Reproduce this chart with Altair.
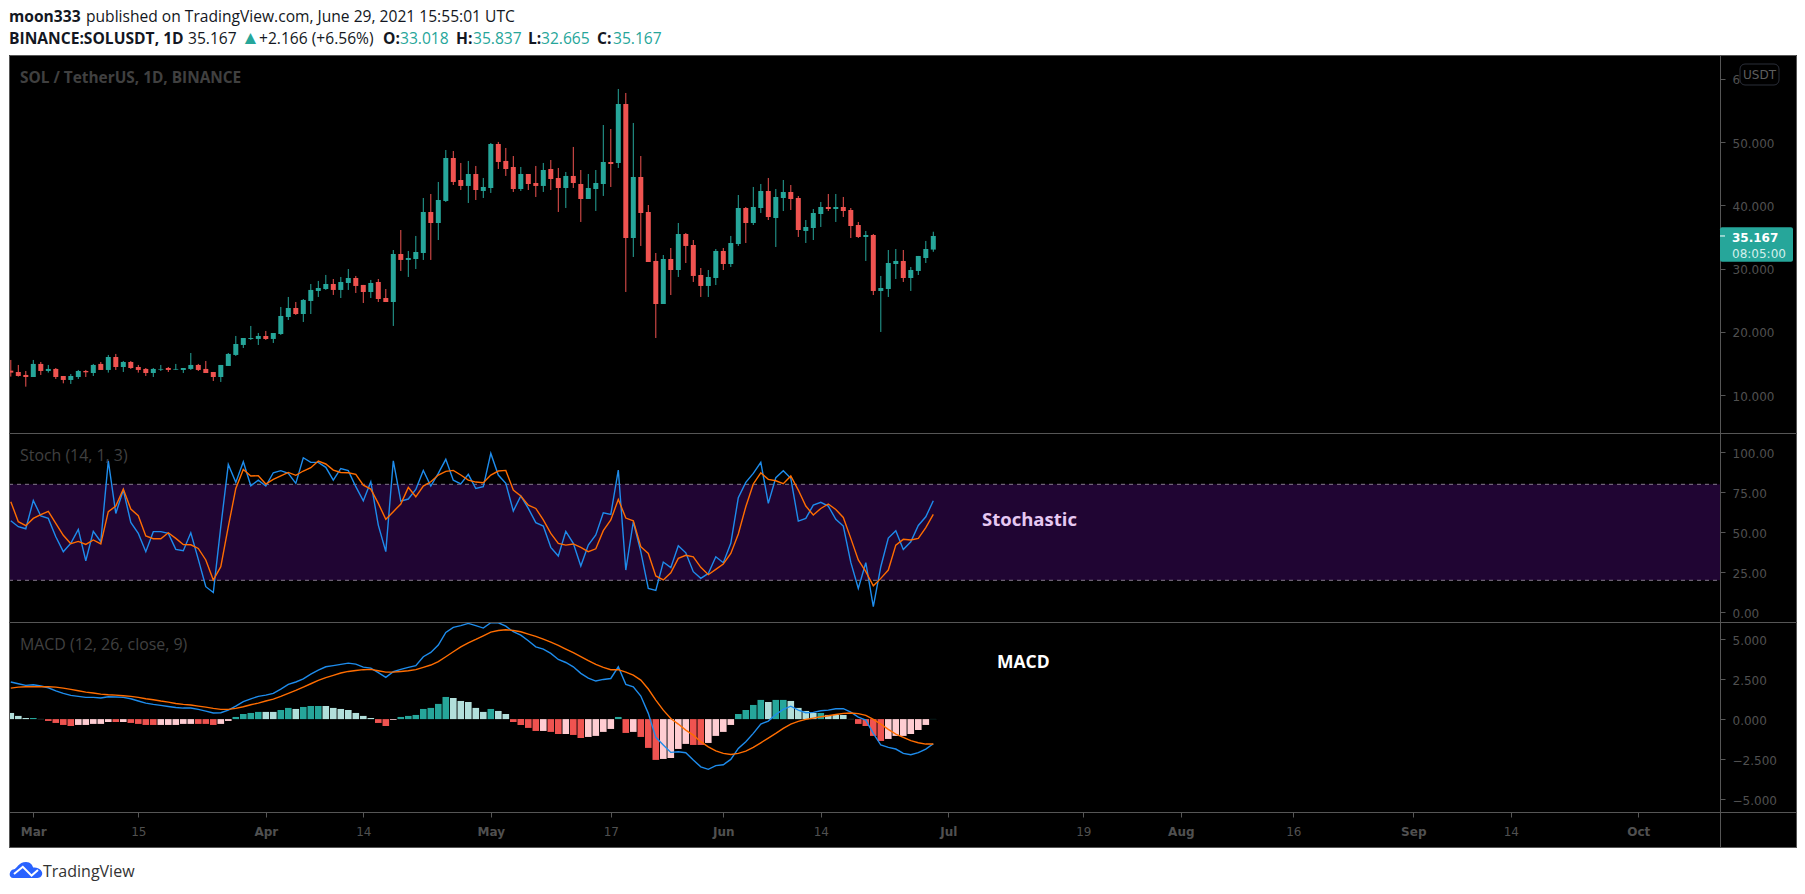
import altair as alt
import pandas as pd

days = list(range(-3, 121))

opens = [13.89,13.68,13.21,12.89,14.95,13.84,14.16,13.05,12.42,12.89,13.84,13.52,14.95,14.00,16.05,14.47,15.26,14.47,14.16,13.52,14.05,14.31,14.05,14.00,14.16,14.79,14.16,13.68,12.89,14.63,16.37,17.95,18.90,18.90,19.37,18.90,19.68,22.37,23.79,22.84,24.90,26.48,26.79,27.58,26.64,27.74,28.53,27.43,26.32,27.90,25.37,24.74,32.32,31.38,31.53,32.48,38.96,37.22,40.70,47.49,44.01,43.07,44.96,42.28,42.75,49.70,47.02,46.07,42.59,44.96,43.54,43.07,45.75,44.33,42.75,44.65,43.38,41.01,42.59,43.38,46.86,46.70,
         56.02,34.85,44.49,38.96,31.22,24.42,31.53,29.79,35.48,33.74,29.00,27.27,28.53,32.80,30.74,33.90,39.59,37.22,39.59,42.27,38.01,41.17,42.12,41.17,35.96,36.43,38.64,39.75,39.43,39.75,39.27,36.90,35.01,35.32,26.48,26.79,30.74,31.22,28.53,29.64,31.69,33.018]
highs = [15.58,14.79,13.84,15.58,15.26,14.79,14.31,13.05,13.36,14.00,14.00,14.95,15.26,16.37,16.53,15.42,15.42,14.79,14.31,14.31,14.79,14.47,14.95,14.31,16.68,14.95,15.42,13.68,14.79,16.68,19.37,19.05,20.95,19.84,20.16,19.84,23.95,25.53,24.74,25.21,27.58,28.06,29.01,28.37,28.69,29.95,28.85,27.43,28.22,28.37,26.79,32.95,36.11,32.80,35.17,41.17,41.80,43.70,48.75,48.59,46.70,47.02,46.23,44.33,49.86,50.02,49.07,47.80,46.07,44.96,46.23,46.70,47.17,45.91,45.28,49.23,45.59,44.96,45.59,52.70,52.07,58.39,
         57.76,53.02,47.80,40.06,32.48,32.16,33.27,37.22,35.64,34.53,30.11,29.79,33.11,33.27,35.17,41.64,39.75,42.91,43.38,44.33,42.59,44.01,43.22,41.48,37.69,39.43,40.54,41.80,41.80,41.33,39.59,37.38,35.96,35.48,28.85,32.95,33.11,32.95,30.27,32.01,34.38,35.837]
lows = [12.95,12.95,11.36,12.89,13.21,13.58,12.58,11.89,11.79,12.58,12.89,13.05,14.00,13.58,14.00,13.68,14.16,13.58,13.05,12.89,13.84,13.68,14.00,13.52,14.00,13.84,13.52,12.26,12.10,14.63,16.21,17.47,18.74,17.95,18.74,18.26,19.53,21.90,22.69,21.58,22.84,25.53,26.64,25.85,25.37,26.64,26.16,24.58,25.37,24.74,24.74,20.95,29.64,28.69,29.95,31.38,31.38,34.53,40.54,43.22,42.43,40.38,40.85,41.17,41.96,45.75,44.65,42.12,42.28,42.43,41.33,42.12,42.43,38.96,39.59,42.75,37.38,41.01,39.12,41.49,42.91,45.91,
        26.32,31.85,33.59,31.06,19.05,24.42,25.84,28.69,30.90,27.90,25.53,25.53,27.42,29.79,30.27,33.59,34.06,36.90,38.80,37.69,33.43,39.11,39.27,35.01,34.06,34.53,36.59,39.11,37.38,38.17,34.85,34.85,31.22,25.84,20.00,25.53,28.37,27.90,26.48,29.00,30.90,32.665]
closes = [13.58,13.05,12.89,14.95,13.84,14.16,12.89,12.42,13.05,13.84,13.63,14.79,14.00,16.05,14.47,15.26,14.31,14.00,13.52,14.16,14.16,14.00,14.16,14.31,14.79,14.00,13.52,12.89,14.79,16.53,18.10,19.05,19.05,19.37,18.90,19.84,22.53,23.79,22.84,25.06,26.64,26.95,27.58,26.64,27.90,28.53,27.27,26.32,27.74,25.21,24.74,32.32,31.38,31.69,32.64,38.96,37.22,40.85,47.49,43.70,43.07,44.96,42.43,42.91,49.70,46.86,45.75,42.59,44.96,43.38,43.07,45.59,44.17,42.75,44.65,43.54,41.01,42.75,43.54,46.86,46.54,56.02,
          34.85,44.49,38.80,31.06,24.42,31.53,29.79,35.48,33.59,28.85,27.27,28.69,32.80,30.74,34.06,39.59,37.22,39.75,42.27,38.17,41.33,42.12,41.01,36.11,36.59,38.80,39.75,39.43,39.75,39.11,36.74,35.01,35.32,26.48,26.95,30.90,31.22,28.53,29.79,32.01,33.11,35.167]

stoch_k = [57.2,53.5,52.2,69.9,60.2,58.7,47.2,37.9,43.1,51.8,32.2,50.6,44.1,94.7,61.8,76.4,56.2,49.3,37.9,50.4,50.4,49.3,39.3,38.5,49.7,33.1,16.0,12.4,53.5,92.4,81.2,94.1,79.1,82.6,78.9,87.2,88.5,86.8,80.6,96.6,93.7,93.7,90.6,82.6,89.9,88.5,78.5,69.7,81.6,54.5,37.9,94.7,69.5,70.8,76.8,88.7,78.9,86.8,95.6,82.6,80.2,86.2,77.4,78.5,99.3,85.8,80.6,63.3,72.7,64.9,56.0,53.9,40.6,35.2,50.6,43.1,28.9,42.0,48.3,62.2,61.2,88.9,26.4,56.6,37.9,14.9,13.7,31.4,27.9,41.6,37.2,25.4,21.2,24.3,34.7,31.0,43.1,71.6,81.2,86.8,93.7,68.1,84.1,88.5,83.7,57.0,58.7,67.0,68.7,66.4,58.1,53.9,31.2,14.9,31.0,3.5,28.5,46.4,51.0,39.3,44.1,54.3,59.7,69.7]
stoch_d = [69.1,56.6,54.1,58.7,61.0,63.1,55.6,48.1,42.9,44.3,42.4,45.2,42.7,62.9,66.4,77.0,64.5,60.4,47.7,46.0,46.0,49.7,46.2,42.4,42.2,39.9,32.7,20.2,28.5,53.5,77.4,89.3,85.2,85.4,80.2,83.1,85.2,87.4,85.6,88.3,90.4,94.5,92.7,88.9,87.4,87.2,86.2,79.5,77.0,68.1,58.1,62.9,67.7,78.1,72.2,78.9,81.6,85.8,88.1,88.7,85.8,82.6,81.4,81.0,85.8,88.3,88.7,76.4,72.7,67.0,64.9,57.7,49.3,43.1,42.0,42.7,40.6,37.9,39.7,51.0,57.7,70.6,58.9,57.2,41.0,36.8,22.7,20.2,24.7,33.7,35.6,34.7,28.1,23.5,26.8,30.2,36.8,48.9,66.0,80.2,87.2,83.1,82.2,80.4,85.2,76.4,66.4,60.8,64.9,67.7,64.3,59.3,46.2,32.7,25.4,16.6,21.2,26.4,42.0,45.6,45.2,46.2,52.9,61.2]

macd_line = [2.32,2.21,2.11,2.15,2.07,1.96,1.77,1.61,1.48,1.42,1.36,1.36,1.32,1.40,1.38,1.36,1.27,1.13,1.00,0.92,0.86,0.79,0.73,0.69,0.69,0.61,0.50,0.38,0.40,0.56,0.81,1.09,1.27,1.42,1.50,1.61,1.88,2.17,2.32,2.52,2.81,3.06,3.27,3.34,3.42,3.50,3.44,3.25,3.19,2.90,2.61,2.96,3.11,3.23,3.34,3.90,4.17,4.63,5.42,5.73,5.84,5.98,5.84,5.69,6.02,6.02,5.81,5.46,5.25,4.90,4.52,4.38,4.11,3.73,3.54,3.27,2.86,2.565,2.38,2.48,2.54,3.27,2.17,2.02,1.44,0.36,-1.14,-1.62,-2.08,-2.04,-2.10,-2.56,-2.98,-3.14,-2.91,-2.85,-2.52,-1.83,-1.41,-0.89,-0.31,-0.12,0.29,0.61,0.81,0.56,0.40,0.42,0.52,0.56,0.65,0.65,0.44,0.13,-0.06,-0.89,-1.62,-1.77,-1.87,-2.14,-2.23,-2.10,-1.87,-1.54]
signal_line = [1.94,2.00,2.02,2.02,2.02,2.02,2.00,1.94,1.86,1.77,1.69,1.63,1.565,1.52,1.50,1.46,1.42,1.36,1.27,1.21,1.13,1.065,0.98,0.92,0.88,0.81,0.75,0.67,0.61,0.61,0.67,0.77,0.90,1.00,1.13,1.25,1.42,1.61,1.79,2.00,2.21,2.42,2.59,2.73,2.88,2.98,3.04,3.09,3.11,3.02,2.94,2.94,2.98,3.02,3.09,3.23,3.38,3.59,3.90,4.21,4.52,4.77,4.98,5.21,5.44,5.54,5.59,5.54,5.46,5.315,5.17,5.00,4.815,4.61,4.38,4.15,3.90,3.65,3.42,3.23,3.09,3.09,2.94,2.75,2.44,1.88,1.19,0.56,0.04,-0.31,-0.685,-1.00,-1.41,-1.73,-1.98,-2.14,-2.21,-2.14,-2.00,-1.77,-1.48,-1.185,-0.89,-0.58,-0.31,-0.14,-0.02,0.065,0.15,0.21,0.29,0.36,0.38,0.34,0.23,-0.02,-0.31,-0.64,-0.935,-1.14,-1.35,-1.48,-1.56,-1.56]
hist = [.385,.20,.07,.07,.01,-.115,-.24,-.365,-.43,-.365,-.365,-.30,-.30,-.18,-.18,-.18,-.24,-.30,-.365,-.365,-.365,-.365,-.365,-.30,-.30,-.30,-.30,-.365,-.30,-.115,.135,.32,.385,.45,.45,.45,.57,.70,.635,.76,.82,.82,.82,.70,.635,.57,.385,.20,.07,-.24,-.43,-.05,.135,.20,.26,.635,.70,.95,1.385,1.32,1.135,1.07,.70,.45,.635,.51,.32,-.18,-.365,-.55,-.74,-.74,-.80,-.93,-.93,-.99,-1.18,-1.115,-1.05,-.80,-.615,.135,-.865,-.80,-1.115,-1.80,-2.55,-2.49,-2.43,-1.865,-1.55,-1.615,-1.615,-1.49,-1.05,-.80,-.365,.32,.57,.885,1.20,1.07,1.20,1.20,1.135,.70,.51,.385,.385,.26,.26,.26,.01,-.30,-.43,-1.05,-1.365,-1.24,-1.05,-1.05,-.93,-.68,-.365,.01]
hist_kind = list("LLLTLRRRRPPPPPRPRRRRPPPPPRRRPPTTTTLLTTLTTTLLLLLLLRRPTTTTTTTLLLLLTLLRRRRPRRPRRPPPPTRPRRRPPPPRRPPPPTTTTLTTLLLLTLLLLRRRRPPPPPPT")

kind_colors = {"T": "#26A69A", "L": "#B2DFDB", "R": "#EF5350", "P": "#FFCDD2"}
UP, DOWN = "#26A69A", "#EF5350"

price_ticks = [10, 20, 30, 40, 50, 60]
stoch_ticks = [0, 25, 50, 75, 100]
macd_ticks = [-5, -2.5, 0, 2.5, 5]
x_tick_days = [0, 14, 31, 44, 61, 77, 92, 105, 122, 140, 153, 168, 184, 197, 214]
x_tick_labels = ["Mar", "15", "Apr", "14", "May", "17", "Jun", "14", "Jul", "19", "Aug", "16", "Sep", "14", "Oct"]
month_days = [0, 31, 61, 92, 122, 153, 184, 214]

FRAME = "#565656"
AXTXT = "#505050"
WM = "#404040"
UIFONT = "Open Sans"
AXFONT = "DejaVu Sans"
XDOM = [-3.24, 235.16]
XEND = 224.9
W = 1788
BLUE = "#1E8CEC"
ORANGE = "#FF6D00"
LW = 1.4

pdf = pd.DataFrame({"d": days, "o": opens, "h": highs, "l": lows, "c": closes})
pdf["col"] = [UP if c >= o else DOWN for o, c in zip(opens, closes)]
sdf = pd.DataFrame({"d": days, "k": stoch_k, "sd": stoch_d})
mdf = pd.DataFrame({"d": days, "m": macd_line, "s": signal_line, "h": hist})
mdf["col"] = [kind_colors[k] for k in hist_kind]

one = alt.InlineData(values=[{"a": 0}])


def txt(text, x, y, size, color, weight="normal", font=UIFONT, align="left"):
    return alt.Chart(one).mark_text(
        text=text, fontSize=size, color=color, fontWeight=weight, font=font,
        align=align, baseline="middle"
    ).encode(x=alt.value(x), y=alt.value(y))


def box(x, x2, y, y2, fill, stroke="transparent", radius=0):
    return alt.Chart(one).mark_rect(
        fill=fill, stroke=stroke, cornerRadius=radius, strokeWidth=1
    ).encode(x=alt.value(x), x2=alt.value(x2), y=alt.value(y), y2=alt.value(y2))


def seg(x, x2, y, y2=None):
    enc = dict(x=alt.value(x), y=alt.value(y))
    if x2 is not None:
        enc["x2"] = alt.value(x2)
    if y2 is not None:
        enc["y2"] = alt.value(y2)
    return alt.Chart(one).mark_rule(color=FRAME, strokeWidth=1).encode(**enc)


def frame(h, bottom=False):
    parts = [seg(0.5, W - 0.5, 0.5), seg(0.5, None, 0.5, h), seg(W - 0.5, None, 0.5, h)]
    if bottom:
        parts.append(seg(0.5, W - 0.5, h - 0.5))
    return parts


def yaxis(vals, fmt):
    return alt.Axis(
        values=vals, format=fmt, orient="right", offset=-77, title=None, grid=False,
        domainColor=FRAME, tickColor=FRAME, tickSize=5, labelColor=AXTXT,
        labelFont=AXFONT, labelFontSize=12, labelPadding=7, labelOverlap=False,
        labelBound=False, labelFlush=False, labelOffset=1,
    )


xs = alt.Scale(domain=XDOM, nice=False, zero=False, padding=0)
xq = alt.X("d:Q", scale=xs, axis=None)

# ---------- header ----------
HC = "#131722"
TEAL = "#26A69A"
HS = 15.6
header = alt.layer(
    txt("moon333", 0, 9, HS, HC, "bold"),
    txt("published on TradingView.com, June 29, 2021 15:55:01 UTC", 77, 9, HS, HC),
    txt("BINANCE:SOLUSDT, 1D", 0, 30.5, HS, HC, "bold"),
    txt("35.167", 179, 30.5, HS, HC),
    txt("▲", 232, 29.5, 19, TEAL),
    txt("+2.166 (+6.56%)", 250, 30.5, HS, HC),
    txt("O:", 374, 30.5, HS, HC, "bold"),
    txt("33.018", 391, 30.5, HS, TEAL),
    txt("H:", 447, 30.5, HS, HC, "bold"),
    txt("35.837", 464, 30.5, HS, TEAL),
    txt("L:", 519, 30.5, HS, HC, "bold"),
    txt("32.665", 532, 30.5, HS, TEAL),
    txt("C:", 588, 30.5, HS, HC, "bold"),
    txt("35.167", 604, 30.5, HS, TEAL),
).properties(width=W, height=47, view=alt.ViewBackground(fill="#ffffff", stroke=None))

# ---------- price pane ----------
pys = alt.Scale(domain=[4.04, 63.76], nice=False, zero=False)
pax = yaxis(price_ticks, ".3f")
price = alt.layer(
    alt.Chart(pdf).mark_rule(strokeWidth=1, clip=True).encode(
        x=xq,
        y=alt.Y("l:Q", scale=pys, axis=pax),
        y2="h:Q",
        color=alt.Color("col:N", scale=None),
    ),
    alt.Chart(pdf).mark_bar(size=5, clip=True, orient="vertical").encode(
        x=xq,
        y=alt.Y("o:Q", scale=pys, axis=pax),
        y2="c:Q",
        color=alt.Color("col:N", scale=None),
    ),
    txt("SOL / TetherUS, 1D, BINANCE", 11, 22.5, 15.4, WM, "bold"),
    box(1731, 1770, 9, 30, "#000000", "#2a2e39", 5),
    txt("USDT", 1750.5, 19.5, 12, "#5e5e5e", font=AXFONT, align="center"),
    box(1711, 1784, 172.3, 206.7, "#26A69A", radius=2),
    alt.Chart(one).mark_rule(color="#ffffff", strokeWidth=1).encode(
        x=alt.value(1711), x2=alt.value(1716), y=alt.datum(35.167, scale=pys, axis=pax)
    ),
    txt("35.167", 1723, 182.5, 12, "#ffffff", "bold", AXFONT),
    txt("08:05:00", 1723, 198.5, 12, "#d4efeb", "normal", AXFONT),
    *frame(378),
).properties(width=W, height=378)

# ---------- stochastic pane ----------
sys_ = alt.Scale(domain=[-6.06, 112.06], nice=False, zero=False)
sax = yaxis(stoch_ticks, ".2f")
DASH = "#857a8d"
stoch = alt.layer(
    alt.Chart(one).mark_rect(color="#200533").encode(
        x=alt.datum(XDOM[0], scale=xs, axis=None), x2=alt.datum(XEND),
        y=alt.datum(80, scale=sys_, axis=sax), y2=alt.datum(20),
    ),
    alt.Chart(one).mark_rule(color=DASH, strokeDash=[4, 4], strokeWidth=1).encode(
        x=alt.datum(XDOM[0], scale=xs, axis=None), x2=alt.datum(XEND), y=alt.datum(80, scale=sys_, axis=sax),
    ),
    alt.Chart(one).mark_rule(color=DASH, strokeDash=[4, 4], strokeWidth=1).encode(
        x=alt.datum(XDOM[0], scale=xs, axis=None), x2=alt.datum(XEND), y=alt.datum(20, scale=sys_, axis=sax),
    ),
    alt.Chart(sdf).mark_line(color=BLUE, strokeWidth=LW, clip=True).encode(
        x=xq, y=alt.Y("k:Q", scale=sys_, axis=sax)
    ),
    alt.Chart(sdf).mark_line(color=ORANGE, strokeWidth=LW, clip=True).encode(
        x=xq, y=alt.Y("sd:Q", scale=sys_, axis=sax)
    ),
    txt("Stoch (14, 1, 3)", 11, 23, 15.9, WM),
    txt("Stochastic", 973, 87, 18.5, "#E6C8F2", "bold"),
    *frame(189),
).properties(width=W, height=189)

# ---------- MACD pane ----------
mys = alt.Scale(domain=[-8.056, 6.07], nice=False, zero=False)
max_ = yaxis(macd_ticks, ".3f")
xaxis = alt.Axis(
    values=x_tick_days, offset=-36, orient="bottom", title=None, grid=False,
    domainColor=FRAME, tickColor=FRAME, tickSize=5, labelColor=AXTXT, labelFont=AXFONT,
    labelFontSize=12, labelPadding=9, labelOverlap=False, labelBound=False, labelFlush=False,
    labelExpr="{" + ",".join(f"'{d}':'{t}'" for d, t in zip(x_tick_days, x_tick_labels)) + "}[datum.value]",
    labelFontWeight={"condition": {"test": f"indexof({month_days}, datum.value) >= 0", "value": "bold"}, "value": "normal"},
)
mx = alt.X("d:Q", scale=xs, axis=xaxis)
macd = alt.layer(
    alt.Chart(mdf).mark_bar(size=6.6, orient="vertical", clip=True).encode(
        x=mx,
        y=alt.Y("h:Q", scale=mys, axis=max_),
        y2=alt.datum(0),
        color=alt.Color("col:N", scale=None),
    ),
    alt.Chart(mdf).mark_line(color=BLUE, strokeWidth=LW, clip=True).encode(
        x=mx, y=alt.Y("m:Q", scale=mys, axis=max_)
    ),
    alt.Chart(mdf).mark_line(color=ORANGE, strokeWidth=LW, clip=True).encode(
        x=mx, y=alt.Y("s:Q", scale=mys, axis=max_)
    ),
    txt("MACD (12, 26, close, 9)", 11, 23, 15.9, WM),
    txt("MACD", 988, 41, 17.5, "#ffffff", "bold"),
    *frame(226, bottom=True),
).properties(width=W, height=226)

# ---------- footer ----------
CLOUD = ("M-0.8,0.5 C-1.1,0.5 -1.1,0 -0.75,-0.05 C-0.6,-0.05 -0.45,-0.5 0,-0.5 "
         "C0.3,-0.5 0.4,-0.3 0.45,-0.15 C0.8,-0.2 1.1,0.1 1,0.3 C0.95,0.45 0.85,0.5 0.7,0.5 Z")
ZIG = "M-0.75,0.25 L-0.2,-0.2 L0.35,0.35 L0.75,0"
footer = alt.layer(
    alt.Chart(one).mark_point(shape=CLOUD, filled=True, color="#2962FF", size=1024, opacity=1).encode(
        x=alt.value(17), y=alt.value(22)
    ),
    alt.Chart(one).mark_point(shape=ZIG, filled=False, color="#ffffff", size=1024, strokeWidth=2, opacity=1).encode(
        x=alt.value(17), y=alt.value(22)
    ),
    txt("TradingView", 34, 24, 16, "#333333"),
).properties(width=W, height=38, view=alt.ViewBackground(fill="#ffffff", stroke=None))

chart = alt.vconcat(header, price, stoch, macd, footer, spacing=0, bounds="flush").properties(
    padding=0, background="#ffffff"
).configure_view(fill="#000000", stroke=None)

chart.save("out.html", embed_options={"renderer": "svg", "actions": False})
